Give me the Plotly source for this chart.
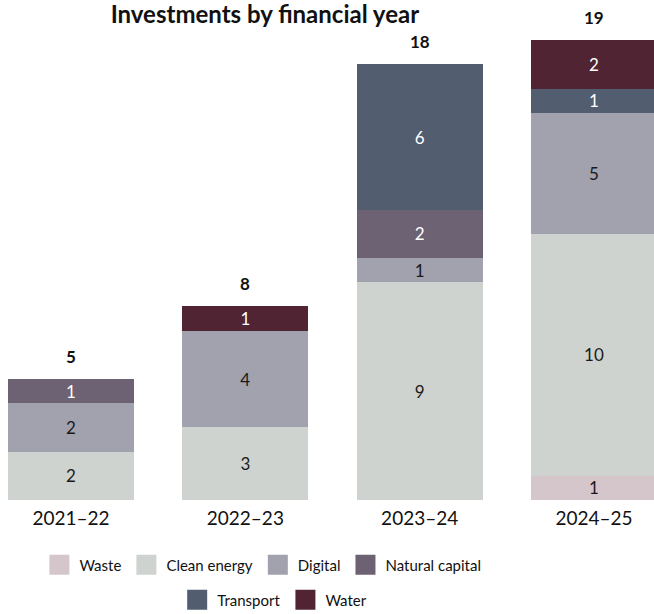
import plotly.graph_objects as go

# Investments by financial year, stacked by sector
years = ["2021–22", "2022–23", "2023–24", "2024–25"]
sectors = ["Waste", "Clean energy", "Digital", "Natural capital", "Transport", "Water"]
waste = [0, 0, 0, 1]
clean_energy = [2, 3, 9, 10]
digital = [2, 4, 1, 5]
natural_capital = [1, 0, 2, 0]
transport = [0, 0, 6, 1]
water = [0, 1, 0, 2]

series = [waste, clean_energy, digital, natural_capital, transport, water]
colors = ["#D5C6CC", "#CED3CF", "#A1A2AE", "#6C6273", "#525E6F", "#512434"]
text_colors = ["#1a1a1a", "#1a1a1a", "#1a1a1a", "#ffffff", "#ffffff", "#ffffff"]
legend_ids = ["legend", "legend", "legend", "legend", "legend2", "legend2"]

FONT = "Lato"
PX_PER_UNIT = 24.2

fig = go.Figure()
for name, vals, col, tcol in zip(sectors, series, colors, text_colors):
    fig.add_trace(go.Bar(
        name=name,
        x=years,
        y=[v if v else None for v in vals],
        marker=dict(color=col, line=dict(width=0)),
        text=[str(v) if v else "" for v in vals],
        textposition="inside",
        insidetextanchor="middle",
        textangle=0,
        constraintext="none",
        textfont=dict(family=FONT, size=17, color=tcol),
        showlegend=False,
        hoverinfo="skip",
    ))

# Legend keys: large square swatches, one per sector
for name, col, lg in zip(sectors, colors, legend_ids):
    fig.add_trace(go.Scatter(
        name=name, x=[None], y=[None], mode="markers",
        marker=dict(symbol="square", size=16, color=col, line=dict(width=4, color=col)),
        legend=lg, showlegend=True, hoverinfo="skip",
    ))

totals = [sum(s[i] for s in series) for i in range(len(years))]
for yr, tot in zip(years, totals):
    fig.add_annotation(
        x=yr, y=tot, xref="x", yref="y",
        text=f"<b>{tot}</b>", showarrow=False,
        yanchor="bottom", yshift=10,
        font=dict(family=FONT, size=17, color="#111111"),
    )

fig.update_layout(
    width=654, height=614,
    margin=dict(l=0, r=0, t=0, b=114, autoexpand=False),
    paper_bgcolor="white", plot_bgcolor="white",
    barmode="stack", bargap=0.277,
    title=dict(
        text="<b>Investments by financial year</b>",
        x=0.405, xanchor="center", xref="container",
        y=1 - 6 / 614, yanchor="top", yref="container",
        font=dict(family=FONT, size=24, color="#111111"),
    ),
    xaxis=dict(
        range=[-0.407, 3.344], showgrid=False, showline=False, zeroline=False,
        ticks="", ticklabelstandoff=5,
        tickfont=dict(family=FONT, size=19, color="#111111"),
    ),
    yaxis=dict(
        range=[0, 500 / PX_PER_UNIT], visible=False,
    ),
    legend=dict(
        orientation="h", x=0.402, xanchor="center", y=-0.13, yanchor="middle",
        font=dict(family=FONT, size=15, color="#111111"), traceorder="normal",
    ),
    legend2=dict(
        orientation="h", x=0.42, xanchor="center", y=-0.2, yanchor="middle",
        font=dict(family=FONT, size=15, color="#111111"), traceorder="normal",
    ),
    showlegend=True,
)

fig.write_html("out.html")
